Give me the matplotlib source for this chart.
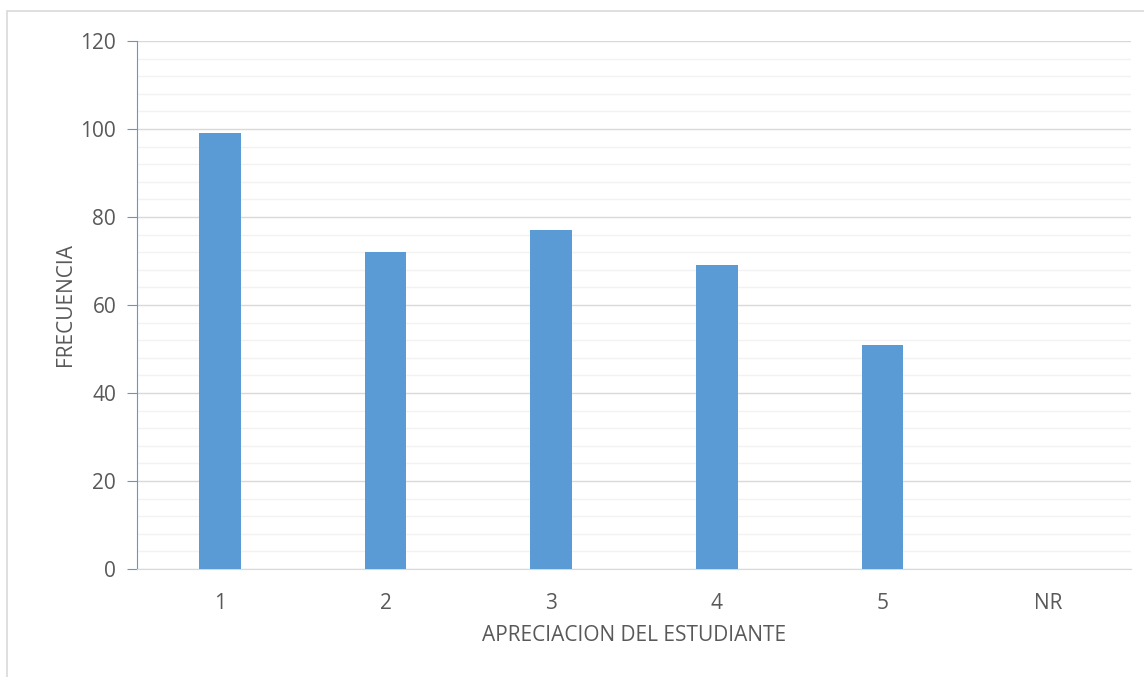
import numpy as np
import matplotlib.pyplot as plt
from matplotlib.patches import Rectangle

categorias = ["1", "2", "3", "4", "5", "NR"]
frecuencia = [99, 72, 77, 69, 51, 0]

azul = "#5B9BD5"
texto = "#595959"

plt.rcParams['font.family'] = ['Open Sans', 'DejaVu Sans']

fig = plt.figure(figsize=(11.44, 6.77), dpi=100)
ax = fig.add_axes([137 / 1144, 0.1595, 994 / 1144, 0.78])

x = np.arange(len(categorias))
ax.bar(x, frecuencia, width=0.25, color=azul, zorder=3)

ax.set_xlim(-0.5, len(categorias) - 0.5)
ax.set_ylim(0, 120)
ax.set_yticks(np.arange(0, 121, 20))
ax.set_yticks(np.arange(0, 121, 4), minor=True)
ax.set_xticks(x)
ax.set_xticklabels(categorias)

# cuadricula principal y secundaria
ax.grid(axis='y', which='major', color="#D9D9D9", linewidth=1.0, zorder=0)
ax.grid(axis='y', which='minor', color="#F2F2F2", linewidth=1.0, zorder=0)

for lado in ['top', 'right']:
    ax.spines[lado].set_visible(False)
ax.spines['left'].set_color(azul)
ax.spines['bottom'].set_color("#D9D9D9")

ax.tick_params(axis='y', which='major', length=7, color=azul, labelsize=15,
               labelcolor=texto, pad=8)
ax.tick_params(axis='y', which='minor', length=0)
ax.tick_params(axis='x', length=0, labelsize=15, labelcolor=texto, pad=17)

ax.set_xlabel("APRECIACION DEL ESTUDIANTE", fontsize=15, color=texto, labelpad=8)
ax.set_ylabel("FRECUENCIA", fontsize=15, color=texto, labelpad=3)

# borde del area del grafico
fig.patches.append(Rectangle((7 / 1144, -0.1), 1.2, 1 - 11 / 677 + 0.1,
                             transform=fig.transFigure, fill=False,
                             edgecolor="#D9D9D9", linewidth=1.2))

fig.savefig("out.png", dpi=100)
